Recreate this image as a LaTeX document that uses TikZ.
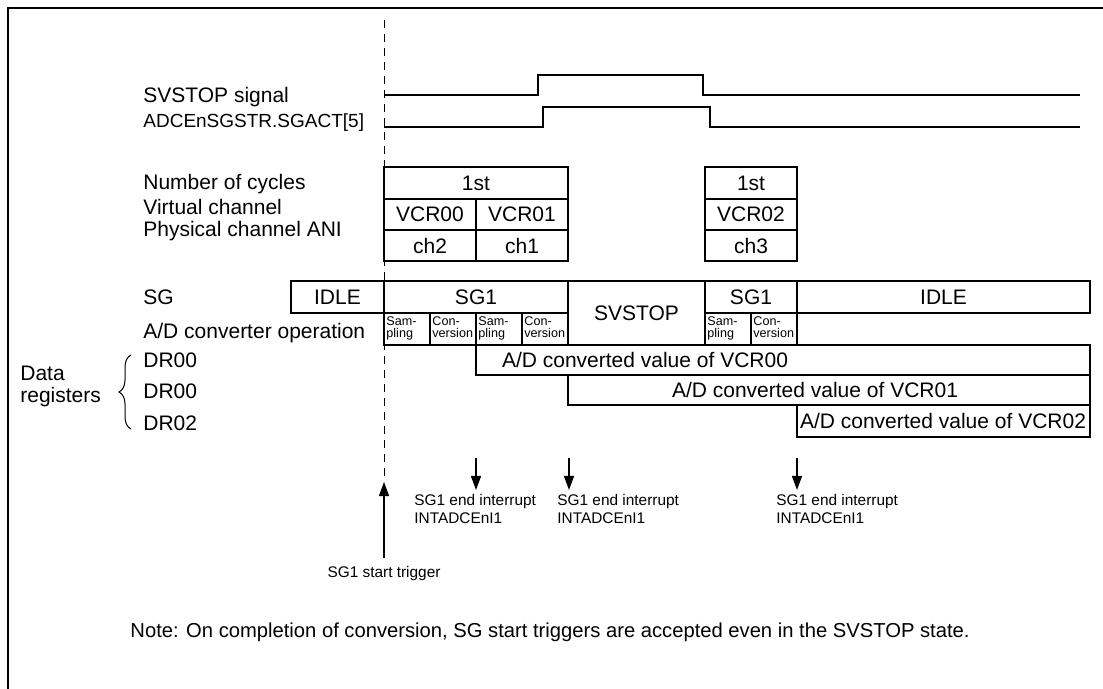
\documentclass[tikz,border=0pt]{standalone}
\usepackage{fontspec}
\setmainfont{Liberation Sans}
\usepackage{tikz}
\usetikzlibrary{calc, positioning, arrows.meta, decorations.pathreplacing}

\begin{document}
\begin{tikzpicture}[x=0.5pt, y=-0.5pt, >={Triangle[length=7pt, width=5pt]},
    cell/.style={draw, line width=0.8pt},
    lab/.style={anchor=west, inner sep=0pt, font=\fontsize{10.5}{12}\selectfont},
    txt/.style={inner sep=0pt, font=\fontsize{10.5}{12}\selectfont},
    tinytxt/.style={anchor=north west, inner sep=0pt, align=left, font=\fontsize{6.3}{6}\selectfont},
    smalltxt/.style={inner sep=0pt, align=left, font=\fontsize{7.7}{8.6}\selectfont}]

    \useasboundingbox (0,0) rectangle (1103,689);

    % =================================================================
    % 1. FRAME AND START-TRIGGER LINE
    % =================================================================
    \draw[line width=1.2pt] (1103,8) -- (8,8) -- (8,689);

    \coordinate (DashTop) at (384,20);
    \coordinate (TrigTip) at (384,482);
    \coordinate (TrigFoot) at (384,558);
    \draw[line width=0.5pt, dash pattern=on 4pt off 3pt] (DashTop) -- (TrigTip);
    \draw[->, line width=0.6pt] (TrigFoot) -- (TrigTip);
    \node[smalltxt, anchor=north] (StartTrig) at (384,566) {SG1 start trigger};

    % =================================================================
    % 2. SIGNALS
    % =================================================================
    \node[lab] (SvLbl) at (143,97) {SVSTOP signal};
    \node[lab, font=\fontsize{9.5}{11}\selectfont] (ActLbl) at (143,123) {ADCEnSGSTR.SGACT[5]};

    \draw[cell] (384,95) -- (538,95) -- (538,75) -- (703,75) -- (703,95) -- (1080,95);
    \draw[cell] (384,127) -- (543,127) -- (543,107) -- (710,107) -- (710,127) -- (1080,127);

    % =================================================================
    % 3. CYCLES / VIRTUAL / PHYSICAL CHANNEL TABLE
    % =================================================================
    \node[lab] (CycLbl) at (143,184) {Number of cycles};
    \node[lab] (VcLbl) at (143,207) {Virtual channel};
    \node[lab] (PhLbl) at (143,231) {Physical channel ANI};

    \foreach \nm/\xa/\ya/\xb/\yb/\txt in {
        CycA/384/167/568/199/1st, VcrA/384/199/476/230/VCR00, VcrB/476/199/568/230/VCR01,
        ChA/384/230/476/261/ch2, ChB/476/230/568/261/ch1,
        CycB/705/167/797/199/1st, VcrC/705/199/797/230/VCR02, ChC/705/230/797/261/ch3,
        SgIdleA/291/281/384/313/IDLE, SgOneA/384/281/568/313/SG1, SgStop/568/281/705/345/SVSTOP,
        SgOneB/705/281/797/313/SG1, SgIdleB/797/281/1090/313/IDLE}{
        \draw[cell] (\xa,\ya) rectangle (\xb,\yb);
        \node[txt] (\nm) at ({(\xa+\xb)/2},{(\ya+\yb)/2}) {\txt};
    }

    % =================================================================
    % 4. SG ROW AND A/D CONVERTER OPERATION
    % =================================================================
    \node[lab] (SgLbl) at (143,297) {SG};
    \node[lab] (OpLbl) at (143,333) {A/D converter operation};

    \foreach \nm/\xa/\xb/\txt in {
        OpA/384/430/{Sam-\\pling}, OpB/430/476/{Con-\\version},
        OpC/476/522/{Sam-\\pling}, OpD/522/568/{Con-\\version},
        OpE/705/751/{Sam-\\pling}, OpF/751/797/{Con-\\version}}{
        \draw[cell] (\xa,313) rectangle (\xb,345);
        \node[tinytxt] (\nm) at (\xa+2,316) {\txt};
    }

    % =================================================================
    % 5. DATA REGISTERS
    % =================================================================
    \node[lab] (DrA) at (143,360) {DR00};
    \node[lab] (DrB) at (143,391) {DR00};
    \node[lab] (DrC) at (143,423) {DR02};
    \node[lab] (DataLbl) at (20,373) {Data};
    \node[lab] (RegLbl) at (20,397) {registers};
    \draw[line width=0.5pt, decorate, decoration={brace, amplitude=6pt}] (131,429) -- (131,355);

    \draw[cell] (476,345) rectangle (1090,375);
    \node[txt] (ValA) at (645,360) {A/D converted value of VCR00};
    \draw[cell] (568,375) rectangle (1090,405);
    \node[txt] (ValB) at (815,390) {A/D converted value of VCR01};
    \draw[cell] (797,405) rectangle (1090,437);
    \node[txt] (ValC) at (943,421) {A/D converted value of VCR02};

    % =================================================================
    % 6. END INTERRUPTS AND NOTE
    % =================================================================
    \foreach \i/\x/\tx in {1/476/414, 2/569/557, 3/797/776}{
        \coordinate (IrqTop\i) at (\x,458);
        \coordinate (IrqTip\i) at (\x,490);
        \draw[->, line width=0.6pt] (IrqTop\i) -- (IrqTip\i);
        \node[smalltxt, anchor=west] (Irq\i) at (\tx,509) {SG1 end interrupt\\INTADCEnI1};
    }

    \node[txt, font=\fontsize{10.1}{12}\selectfont] (Note) at (550,632) {Note: On completion of conversion, SG start triggers are accepted even in the SVSTOP state.};

\end{tikzpicture}
\end{document}
